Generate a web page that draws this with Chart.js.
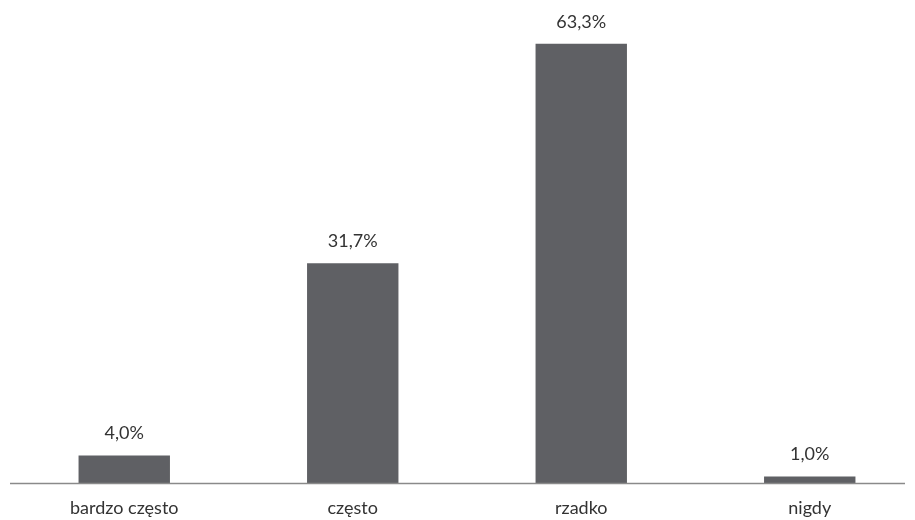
<!DOCTYPE html>
<html>
<head>
<meta charset="utf-8">
<script src="https://cdn.jsdelivr.net/npm/chart.js@4/dist/chart.umd.min.js"></script>
<style>
  html, body { margin: 0; padding: 0; background: #fff; overflow: hidden; }
  #wrap { width: 915px; height: 520px; overflow: hidden; }
  canvas { display: block; }
</style>
</head>
<body>
<div id="wrap"><canvas id="myChart" width="924" height="535"></canvas></div>
<script>
let categories = ['bardzo często', 'często', 'rzadko', 'nigdy'];
let values = [4.0, 31.7, 63.3, 1.0];
let valueLabels = ['4,0%', '31,7%', '63,3%', '1,0%'];

let barColor = '#5f6064';
let textColor = '#333333';

// value labels above bars
let barLabels = {
    id: 'barLabels',
    afterDatasetsDraw(chart) {
        let ctx = chart.ctx;
        let meta = chart.getDatasetMeta(0);
        ctx.save();
        ctx.font = '18px Lato';
        ctx.fillStyle = textColor;
        ctx.textAlign = 'center';
        ctx.textBaseline = 'middle';
        meta.data.forEach((bar, i) => {
            ctx.fillText(valueLabels[i], bar.x, bar.y - 22);
        });
        ctx.restore();
    }
};

// baseline, stops short of the right edge
let baseLine = {
    id: 'baseLine',
    afterDatasetsDraw(chart) {
        let ctx = chart.ctx;
        let y = chart.scales.y.getPixelForValue(0);
        ctx.save();
        ctx.strokeStyle = '#8a8a8a';
        ctx.lineWidth = 1.5;
        ctx.beginPath();
        ctx.moveTo(chart.chartArea.left, y);
        ctx.lineTo(905, y);
        ctx.stroke();
        ctx.restore();
    }
};

let myChart = document.getElementById('myChart').getContext('2d');

let chart = new Chart(myChart, {
    type: 'bar',
    data: {
        labels: categories,
        datasets: [{
            data: values,
            backgroundColor: barColor,
            barPercentage: 0.4,
            categoryPercentage: 1.0
        }]
    },
    options: {
        responsive: false,
        animation: false,
        layout: {
            padding: { left: 10, right: 0, top: 0, bottom: 2 }
        },
        plugins: {
            legend: { display: false },
            tooltip: { enabled: false }
        },
        scales: {
            x: {
                grid: { display: false, drawTicks: false },
                border: { display: false },
                ticks: {
                    color: textColor,
                    font: { family: 'Lato', size: 18 },
                    padding: 14
                }
            },
            y: {
                display: false,
                min: 0,
                max: 69.6
            }
        }
    },
    plugins: [barLabels, baseLine]
});
</script>
</body>
</html>
